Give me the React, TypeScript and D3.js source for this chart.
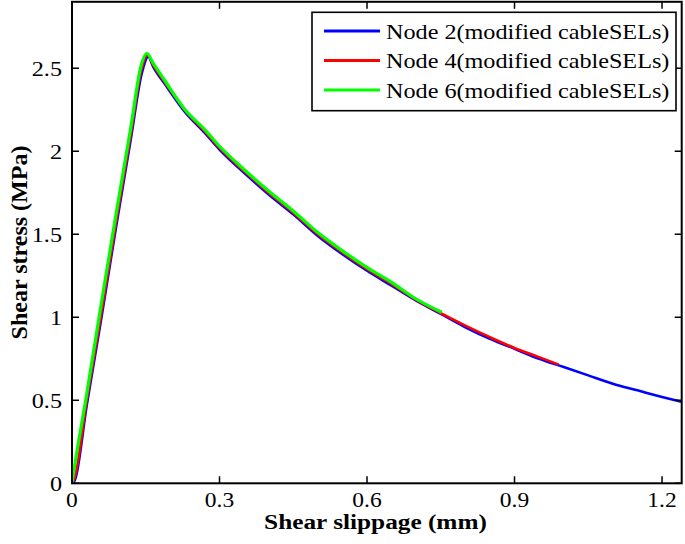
import React from "react";
import * as d3 from "d3";

const node2X = [0, 0.006, 0.03, 0.06, 0.09, 0.12, 0.142, 0.155, 0.165, 0.19, 0.23, 0.27, 0.30, 0.35, 0.40, 0.45, 0.50, 0.55, 0.60, 0.65, 0.70, 0.75, 0.80, 0.85, 0.90, 0.95, 1.00, 1.05, 1.10, 1.15, 1.20, 1.24];
const node2Y = [0, 0.02, 0.47, 1.00, 1.55, 2.08, 2.47, 2.57, 2.51, 2.40, 2.235, 2.11, 2.01, 1.87, 1.74, 1.62, 1.49, 1.38, 1.28, 1.19, 1.10, 1.02, 0.94, 0.87, 0.81, 0.75, 0.70, 0.65, 0.60, 0.56, 0.52, 0.49];

const node4X = [0, 0.005, 0.03, 0.06, 0.09, 0.12, 0.141, 0.154, 0.165, 0.19, 0.23, 0.27, 0.30, 0.35, 0.40, 0.45, 0.50, 0.55, 0.60, 0.65, 0.70, 0.75, 0.80, 0.85, 0.90, 0.95, 0.99];
const node4Y = [0, 0.03, 0.50, 1.03, 1.58, 2.11, 2.49, 2.58, 2.52, 2.41, 2.245, 2.12, 2.02, 1.88, 1.75, 1.63, 1.50, 1.39, 1.29, 1.20, 1.105, 1.025, 0.95, 0.88, 0.815, 0.76, 0.715];

const node6X = [0, 0.003, 0.03, 0.06, 0.09, 0.12, 0.14, 0.152, 0.165, 0.19, 0.23, 0.27, 0.30, 0.35, 0.40, 0.45, 0.50, 0.55, 0.60, 0.65, 0.70, 0.752];
const node6Y = [0, 0.06, 0.54, 1.09, 1.63, 2.15, 2.51, 2.59, 2.53, 2.42, 2.25, 2.13, 2.03, 1.89, 1.76, 1.64, 1.51, 1.40, 1.30, 1.21, 1.11, 1.03];

const xTicks = [0, 0.3, 0.6, 0.9, 1.2];
const xTickLabels = ["0", "0.3", "0.6", "0.9", "1.2"];
const yTicks = [0, 0.5, 1, 1.5, 2, 2.5];
const yTickLabels = ["0", "0.5", "1", "1.5", "2", "2.5"];

const seriesNames = ["Node 2(modified cableSELs)", "Node 4(modified cableSELs)", "Node 6(modified cableSELs)"];
const seriesColors = ["#0000ff", "#ff0000", "#00ff00"];

const W = 685, H = 544;
const L = 72, R = 681.7, T = 1.8, B = 483.3;

export default function App() {
  const x = d3.scaleLinear().domain([0, 1.24]).range([L, R]);
  const y = d3.scaleLinear().domain([0, 2.9]).range([B, T]);
  const line = d3.line<[number, number]>().x(d => x(d[0])).y(d => y(d[1])).curve(d3.curveMonotoneX);
  const series = [
    node2X.map((v, i) => [v, node2Y[i]] as [number, number]),
    node4X.map((v, i) => [v, node4Y[i]] as [number, number]),
    node6X.map((v, i) => [v, node6Y[i]] as [number, number]),
  ];
  const widths = [2.6, 2.6, 3.2];
  const font = "'Liberation Serif', 'Times New Roman', Times, serif";
  const tickLen = 7;
  return (
    <svg width={W} height={H} style={{ position: "fixed", left: 0, top: 0, background: "#fff" }} fontFamily={font}>
      <defs>
        <clipPath id="plotclip"><rect x={L} y={T} width={R - L} height={B - T} /></clipPath>
      </defs>
      <rect x={0} y={0} width={W} height={H} fill="#fff" />
      <g clipPath="url(#plotclip)">
        {series.map((s, i) => (
          <path key={i} d={line(s) || ""} fill="none" stroke={seriesColors[i]} strokeWidth={widths[i]} strokeLinejoin="round" />
        ))}
      </g>
      {xTicks.map((t, i) => (
        <g key={"xt" + i}>
          <line x1={x(t)} x2={x(t)} y1={B} y2={B - tickLen} stroke="#000" strokeWidth={1.5} />
          <line x1={x(t)} x2={x(t)} y1={T} y2={T + tickLen} stroke="#000" strokeWidth={1.5} />
          <text x={x(t)} y={507} textAnchor="middle" fontSize={21} transform={`translate(${x(t)},0) scale(1.12,1) translate(${-x(t)},0)`}>{xTickLabels[i]}</text>
        </g>
      ))}
      {yTicks.map((t, i) => (
        <g key={"yt" + i}>
          <line x1={L} x2={L + tickLen} y1={y(t)} y2={y(t)} stroke="#000" strokeWidth={1.5} />
          <line x1={R} x2={R - tickLen} y1={y(t)} y2={y(t)} stroke="#000" strokeWidth={1.5} />
          <text x={62} y={y(t) + 8} textAnchor="end" fontSize={22} transform={`translate(62,0) scale(1.1,1) translate(-62,0)`}>{yTickLabels[i]}</text>
        </g>
      ))}
      <rect x={L} y={T} width={R - L} height={B - T} fill="none" stroke="#000" strokeWidth={2} />
      <rect x={312} y={12.3} width={364} height={98.4} fill="#fff" stroke="#000" strokeWidth={1.6} />
      {seriesNames.map((n, i) => {
        const ly = 31 + i * 29.5;
        return (
          <g key={"lg" + i}>
            <line x1={324} x2={380} y1={ly} y2={ly} stroke={seriesColors[i]} strokeWidth={3} />
            <text x={386} y={ly + 8} fontSize={22} transform={`translate(386,0) scale(1.1,1) translate(-386,0)`}>{n}</text>
          </g>
        );
      })}
      <text x={375.5} y={529} textAnchor="middle" fontSize={22} fontWeight="bold" transform={`translate(375.5,0) scale(1.15,1) translate(-375.5,0)`}>Shear slippage (mm)</text>
      <text transform={`translate(27,242.5) rotate(-90)`} textAnchor="middle" fontSize={24} fontWeight="bold">Shear stress (MPa)</text>
    </svg>
  );
}
